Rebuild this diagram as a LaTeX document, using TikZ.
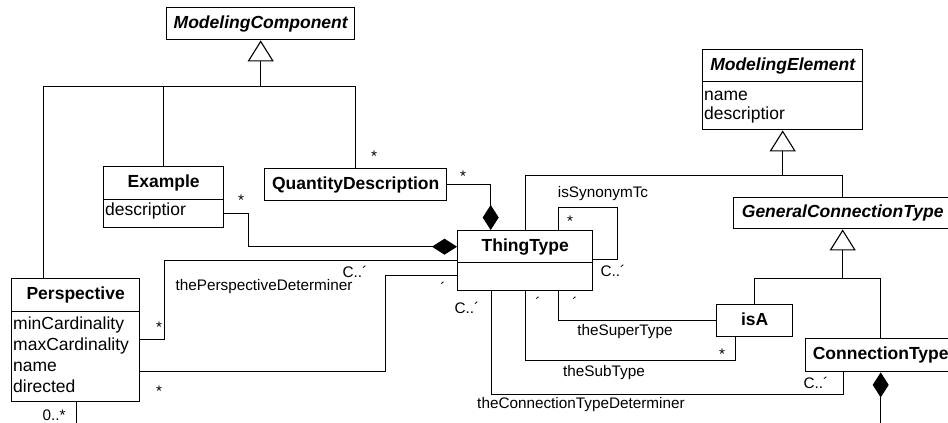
\documentclass[tikz,border=0pt]{standalone}
\usepackage{fontspec}
\setmainfont{Liberation Sans}
\usetikzlibrary{arrows.meta}
\begin{document}
\begin{tikzpicture}[x=1pt,y=-1pt,
  cls/.style={draw, line width=1.4pt, inner sep=0pt, anchor=north west,
    font=\fontsize{17.5}{21}\selectfont\bfseries, text height=12.6pt, text depth=3.7pt},
  clsi/.style={cls, font=\fontsize{17.5}{21}\selectfont\bfseries\itshape},
  cmpt/.style={draw, line width=1.4pt, inner sep=0pt, anchor=north west},
  attr/.style={anchor=base west, inner sep=0pt, font=\fontsize{17.5}{21}\selectfont},
  conn/.style={line width=0.9pt},
  gen/.style={conn, -{Triangle[open, length=21pt, width=26pt, line width=1.1pt]}},
  comp/.style={conn, -{Diamond[length=25pt, width=16pt]}},
  lbl/.style={inner sep=0pt, font=\fontsize{15.3}{18}\selectfont}]
\useasboundingbox (0,0) rectangle (948,423);
\clip (0,0) rectangle (948,423);
\fill[white] (0,0) rectangle (948,423);

% classes
\node[clsi, minimum width=188pt, minimum height=32pt] (mc) at (166,7) {ModelingComponent};
\node[cls, minimum width=120pt, minimum height=33pt] (exT) at (103,166) {Example};
\node[cmpt, minimum width=120pt, minimum height=28pt] (exA) at (103,199) {};
\node[attr] (exA1) at (105,215) {descriptior};
\node[cls, minimum width=182pt, minimum height=32pt] (qd) at (264,168) {QuantityDescription};
\node[cls, minimum width=128pt, minimum height=33pt] (pT) at (11,278) {Perspective};
\node[cmpt, minimum width=128pt, minimum height=90pt] (pA) at (11,311) {};
\node[attr] (pA1) at (13,329) {minCardinality};
\node[attr] (pA2) at (13,350) {maxCardinality};
\node[attr] (pA3) at (13,371) {name};
\node[attr] (pA4) at (13,392) {directed};
\node[cls, minimum width=135pt, minimum height=32pt] (tT) at (457,230) {ThingType};
\node[cmpt, minimum width=135pt, minimum height=28pt] (tA) at (457,262) {};
\node[clsi, minimum width=160pt, minimum height=32pt] (meT) at (702,49) {ModelingElement};
\node[cmpt, minimum width=160pt, minimum height=48pt] (meA) at (702,81) {};
\node[attr] (meA1) at (704,100) {name};
\node[attr] (meA2) at (704,119.5) {descriptior};
\node[clsi, minimum width=218pt, minimum height=31pt] (gct) at (733,197) {GeneralConnectionType};
\node[cls, minimum width=76pt, minimum height=32pt] (isa) at (716,304) {isA};
\node[cls, minimum width=150pt, minimum height=33pt] (ct) at (805,338) {ConnectionType};

% generalizations
\coordinate (jmc) at ([yshift=-46pt]mc.south);
\draw[gen] (jmc) -- (mc.south);
\draw[conn] ([xshift=-32pt]pT.north) |- (jmc);
\draw[conn] (exT.north) |- (jmc);
\draw[conn] (qd.north) |- (jmc);

\coordinate (jme) at ([yshift=-45pt]meA.south);
\draw[gen] (jme) -- (meA.south);
\draw[conn] (tT.north) |- (jme);
\draw[conn] (gct.north) |- (jme);

\coordinate (jg) at ([yshift=-49pt]gct.south);
\draw[gen] (jg) -- (gct.south);
\draw[conn] (isa.north) |- (jg);
\draw[conn] (ct.north) |- (jg);

% compositions
\draw[comp] (qd.east) -| ([xshift=-34.5pt]tT.north);
\draw[comp] (exA.east) -- ++(24,0) |- (tT.west);
\coordinate (ctb) at ([yshift=-56pt]ct.south);
\draw[comp] (ctb) -- (ct.south);

% associations
\draw[conn] ([yshift=17pt]pA.east) -- ++(24,0) |- ([yshift=-14pt]tT.west);
\draw[conn] ([yshift=-15pt]pA.east) -- ++(245,0) |- ([yshift=-29pt]tT.west);
\coordinate (pb) at ([xshift=1pt,yshift=-26pt]pA.south);
\draw[conn] ([xshift=1pt]pA.south) -- (pb);
\draw[conn] ([xshift=33.5pt]tT.north) -- ++(0,-23) -- ++(59,0) |- ([yshift=-13pt]tT.east);
\draw[conn] ([xshift=33.5pt]tA.south) |- (isa.west);
\draw[conn] (tA.south) -- ++(0,69) -| ([xshift=-19pt]isa.south);
\draw[conn] ([xshift=-33.5pt]tA.south) -- ++(0,103) -| ([xshift=-37pt]ct.south);

% labels
\node[lbl] (m1) at (374,156) {*};
\node[lbl] (m2) at (463,176) {*};
\node[lbl] (m3) at (241,200) {*};
\node[lbl] (m4) at (159,327) {*};
\node[lbl] (m5) at (159,391) {*};
\node[lbl] (m6) at (570,221) {*};
\node[lbl] (m7) at (722,354) {*};
\node[lbl, anchor=base] (m8) at (54,420) {0..*};
\node[lbl] (c1) at (355,272) {C..´};
\node[lbl] (c2) at (613,271) {C..´};
\node[lbl] (c3) at (467,308) {C..´};
\node[lbl] (c4) at (816,383) {C..´};
\node[lbl] (o1) at (443,287.5) {´};
\node[lbl] (o2) at (538,302.5) {´};
\node[lbl] (o3) at (575,302.5) {´};
\node[lbl] (r1) at (264,287) {thePerspectiveDeterminer};
\node[lbl] (r2) at (603,194) {isSynonymTc};
\node[lbl] (r3) at (625,332) {theSuperType};
\node[lbl] (r4) at (604,373) {theSubType};
\node[lbl] (r5) at (581,405) {theConnectionTypeDeterminer};
\end{tikzpicture}
\end{document}
